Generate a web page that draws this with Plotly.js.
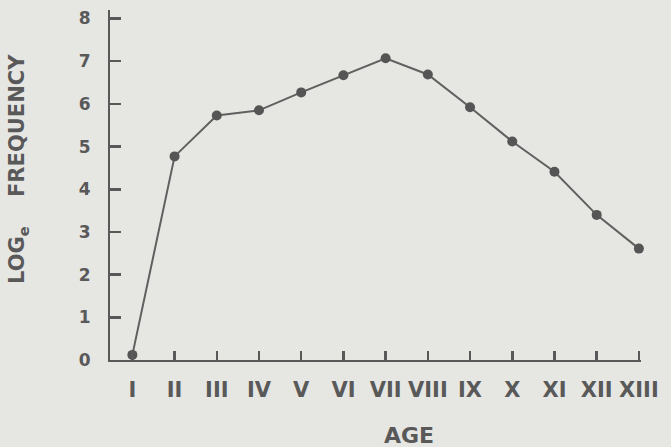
<!DOCTYPE html>
<html>
<head>
<meta charset="utf-8">
<script src="https://cdn.plot.ly/plotly-3.0.1.min.js"></script>
<style>
  html, body { margin: 0; padding: 0; background: #e6e6e3; }
  #chart { width: 671px; height: 447px; }
</style>
</head>
<body>
<div id="chart"></div>
<script>
const ages = ['I', 'II', 'III', 'IV', 'V', 'VI', 'VII', 'VIII', 'IX', 'X', 'XI', 'XII', 'XIII'];
const logFrequency = [0.12, 4.77, 5.73, 5.85, 6.27, 6.67, 7.07, 6.69, 5.92, 5.12, 4.41, 3.40, 2.61];
const yTickValues = [0, 1, 2, 3, 4, 5, 6, 7, 8];
const yTitle = 'LOG<sub>e</sub>&nbsp;&nbsp;&nbsp;&nbsp;FREQUENCY';
const xTitle = 'AGE';

const ink = '#595959';
const fontFamily = '"DejaVu Sans", "Liberation Sans", sans-serif';

const trace = {
  type: 'scatter',
  mode: 'lines+markers',
  x: ages,
  y: logFrequency,
  line: { color: '#606060', width: 2 },
  marker: { color: '#555555', size: 10, line: { width: 0 } },
  cliponaxis: false,
  hoverinfo: 'x+y'
};

const layout = {
  width: 671,
  height: 447,
  margin: { l: 110, r: 30, t: 10, b: 87 },
  paper_bgcolor: '#e6e6e3',
  plot_bgcolor: '#e6e6e3',
  showlegend: false,
  font: { family: fontFamily, color: ink },
  xaxis: {
    type: 'category',
    range: [-0.53, 12.05],
    showgrid: false,
    zeroline: false,
    showline: true,
    linecolor: ink,
    linewidth: 2,
    ticks: 'inside',
    ticklen: 9,
    tickwidth: 2.5,
    tickcolor: ink,
    ticklabelstandoff: 10,
    tickfont: { family: fontFamily, size: 21, color: ink, weight: 'bold' },
    fixedrange: true
  },
  yaxis: {
    range: [0, 8.2],
    tickvals: yTickValues,
    showgrid: false,
    zeroline: false,
    showline: true,
    linecolor: ink,
    linewidth: 2,
    ticks: 'inside',
    ticklen: 11,
    tickwidth: 2.5,
    tickcolor: ink,
    ticklabelstandoff: 14,
    tickfont: { family: fontFamily, size: 17, color: ink, weight: 'bold' },
    fixedrange: true
  },
  annotations: [
    {
      text: yTitle,
      xref: 'paper', yref: 'paper',
      x: -0.172, y: 0.545,
      xanchor: 'center', yanchor: 'middle',
      textangle: -90,
      showarrow: false,
      font: { family: fontFamily, size: 21, color: ink, weight: 'bold' }
    },
    {
      text: xTitle,
      xref: 'paper', yref: 'paper',
      x: 0.563, y: -0.215,
      xanchor: 'center', yanchor: 'middle',
      showarrow: false,
      font: { family: fontFamily, size: 22, color: ink, weight: 'bold' }
    }
  ]
};

Plotly.newPlot('chart', [trace], layout, { staticPlot: true, displayModeBar: false });
</script>
</body>
</html>
